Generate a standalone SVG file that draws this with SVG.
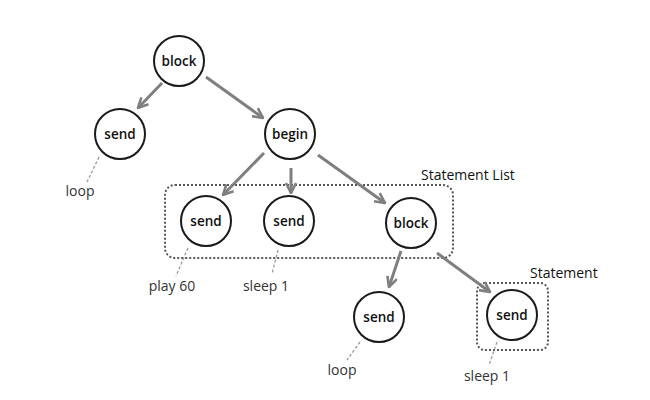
<svg xmlns="http://www.w3.org/2000/svg" width="650" height="400" viewBox="0 0 650 400">
<defs>
<marker id="arr" viewBox="0 0 12 12" refX="11" refY="6" markerWidth="12" markerHeight="12" markerUnits="userSpaceOnUse" orient="auto">
<path d="M1,1 L11,6 L1,11" fill="none" stroke="#7f7f7f" stroke-width="2.6"/>
</marker>
<style>
.node circle{fill:#fff;stroke:#1a1a1a;stroke-width:2}
.node text{font-family:"Open Sans","Liberation Sans",sans-serif;font-size:13.5px;font-weight:600;fill:#111;text-anchor:middle}
.edge{stroke:#7f7f7f;stroke-width:3;fill:none;marker-end:url(#arr)}
.lead{stroke:#9a9a9a;stroke-width:1.3;stroke-dasharray:3,2;fill:none}
.lbl{font-family:"Open Sans","Liberation Sans",sans-serif;font-size:14px;fill:#333;text-anchor:middle}
.grp{fill:none;stroke:#555;stroke-width:2;stroke-dasharray:2,2}
.cap{font-family:"Open Sans","Liberation Sans",sans-serif;font-size:14px;fill:#111}
</style>
</defs>
<rect width="650" height="400" fill="#fff"/>
<g id="groups">
<rect class="grp" x="165" y="185" width="288" height="73" rx="10"/>
<text class="cap" x="421" y="180">Statement List</text>
<rect class="grp" x="477" y="283" width="71" height="67" rx="8"/>
<text class="cap" x="530" y="278">Statement</text>
</g>
<g id="connectors">
<line class="edge" x1="162" y1="83" x2="138" y2="108"/>
<line class="edge" x1="206" y1="77" x2="263" y2="118"/>
<line class="edge" x1="264" y1="153" x2="223" y2="195"/>
<line class="edge" x1="291" y1="168" x2="291" y2="193"/>
<line class="edge" x1="318" y1="155" x2="385" y2="203"/>
<line class="edge" x1="401" y1="251" x2="389" y2="287"/>
<line class="edge" x1="437" y1="253" x2="490" y2="292"/>
<line class="lead" x1="99" y1="157" x2="87" y2="182"/>
<line class="lead" x1="188" y1="248" x2="176" y2="276"/>
<line class="lead" x1="278" y1="250" x2="272" y2="274"/>
<line class="lead" x1="360" y1="342" x2="347" y2="360"/>
<line class="lead" x1="497" y1="342" x2="489" y2="365"/>
</g>
<g id="n-block" class="node"><circle cx="179" cy="61" r="25"/><text x="179" y="66">block</text></g>
<g id="n-send-loop" class="node"><circle cx="120" cy="134" r="25"/><text x="120" y="139">send</text></g>
<g id="n-begin" class="node"><circle cx="290" cy="134" r="25"/><text x="290" y="139">begin</text></g>
<g id="n-send-play" class="node"><circle cx="206" cy="221" r="25"/><text x="206" y="226">send</text></g>
<g id="n-send-sleep" class="node"><circle cx="289" cy="221" r="25"/><text x="289" y="226">send</text></g>
<g id="n-block2" class="node"><circle cx="411" cy="223" r="25"/><text x="411" y="228">block</text></g>
<g id="n-send-loop2" class="node"><circle cx="379" cy="317" r="25"/><text x="379" y="322">send</text></g>
<g id="n-send-sleep2" class="node"><circle cx="512" cy="315" r="25"/><text x="512" y="320">send</text></g>
<g id="labels">
<text class="lbl" x="80" y="196">loop</text>
<text class="lbl" x="172" y="291">play 60</text>
<text class="lbl" x="266" y="291">sleep 1</text>
<text class="lbl" x="342" y="375">loop</text>
<text class="lbl" x="487" y="381">sleep 1</text>
</g>
</svg>
